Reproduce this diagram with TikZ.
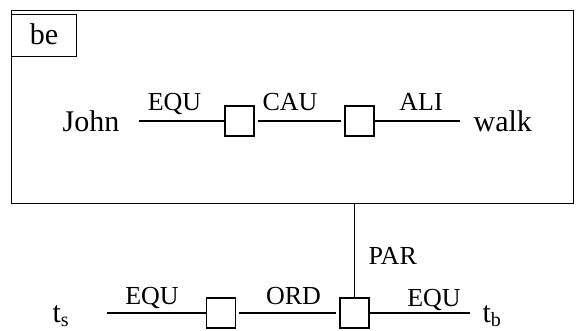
\documentclass[tikz,border=0pt]{standalone}
\usepackage{fontspec}
\setmainfont{Liberation Serif}
\usetikzlibrary{positioning}
\tikzset{>=stealth}
\newcommand{\tsub}[1]{\raisebox{-4pt}{\fontsize{20}{20}\selectfont #1}}

\begin{document}
\begin{tikzpicture}[x=1pt, y=-1pt, line width=1.3pt,
		word/.style={font=\fontsize{30}{34}\selectfont, inner sep=0pt, anchor=base west},
		rel/.style={font=\fontsize{26}{30}\selectfont, inner sep=0pt, anchor=base},
		concept/.style={draw, minimum width=29pt, minimum height=30pt, inner sep=0pt},
		gap/.style={shorten <=3pt, shorten >=3pt}]
						\useasboundingbox (0,0) rectangle (576,331);
						\node [draw, anchor=north west, inner sep=0pt, minimum width=562pt, minimum height=193pt] (frame) at (11,10) {};
						\node [draw, anchor=north west, inner sep=0pt, minimum width=65pt, minimum height=42pt, font=\fontsize{30}{34}\selectfont, yshift=-2pt, text depth=4pt] (be) at (11,12) {be};
						\node [word] (john) at (62,132) {John};
						\node [word] (walk) at (473,132) {walk};
						\coordinate (jl) at (139,121);
						\coordinate (wl) at (460,121);
						\node [concept] (c1) at (239.5,121) {};
						\node [concept] (c2) at (359.5,121) {};
						\draw (jl) -- (c1);
						\draw [gap] (c1) -- (c2);
						\draw (c2) -- (wl);
						\node [rel] (equa) at (174.5,111) {EQU};
						\node [rel] (cau) at (290,111) {CAU};
						\node [rel] (ali) at (421,111) {ALI};
						\node [word] (ts) at (52,323) {t\tsub{s}};
						\node [word] (tb) at (482,323) {t\tsub{b}};
						\coordinate (tsl) at (107,313);
						\coordinate (tbl) at (470,313);
						\node [concept] (c3) at (221,313) {};
						\node [concept] (c4) at (354.5,313) {};
						\draw (tsl) -- (c3);
						\draw [gap] (c3) -- (c4);
						\draw (c4) -- (tbl);
						\draw (c4) -- (c4 |- frame.south);
						\node [rel] (equb) at (152,305) {EQU};
						\node [rel] (ord) at (293.5,305) {ORD};
						\node [rel] (equc) at (434,306) {EQU};
						\node [rel, anchor=base west] (par) at (368,265) {PAR};
					\end{tikzpicture}
\end{document}
